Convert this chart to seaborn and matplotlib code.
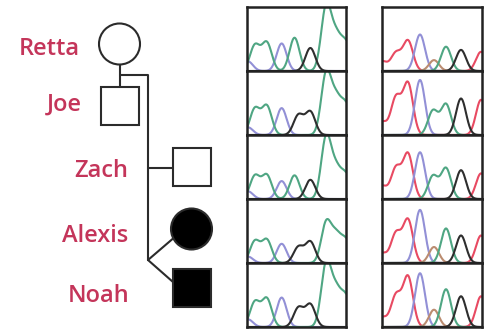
import matplotlib
matplotlib.use("Agg")
import matplotlib.pyplot as plt
import seaborn as sns
import numpy as np
import pandas as pd
from matplotlib.patches import Circle, Rectangle

sns.set_theme(style="white")
plt.rcParams["font.family"] = ["Open Sans", "DejaVu Sans"]

# family members, top to bottom
names = ["Retta", "Joe", "Zach", "Alexis", "Noah"]
sex = ["F", "M", "M", "F", "M"]
affected = [False, False, False, True, True]

# left sequencing window: base of each peak and where it sits (0-1 along the window)
left_bases = ["C", "A", "A", "C", "A", "G", "G", "A", "A", "A"]
left_pos = [0.01, 0.08, 0.20, 0.35, 0.48, 0.52, 0.64, 0.80, 0.90, 1.0]
# peak heights per person (0-1 of the box height)
left_heights = [
    [0.15, 0.40, 0.44, 0.43, 0.52, 0.00, 0.36, 1.00, 0.50, 0.42],
    [0.12, 0.41, 0.45, 0.42, 0.00, 0.31, 0.36, 0.95, 0.52, 0.45],
    [0.12, 0.36, 0.37, 0.28, 0.37, 0.00, 0.30, 0.96, 0.43, 0.36],
    [0.10, 0.34, 0.36, 0.30, 0.00, 0.25, 0.33, 0.62, 0.40, 0.34],
    [0.12, 0.39, 0.44, 0.46, 0.00, 0.30, 0.35, 0.98, 0.52, 0.45],
]

# right sequencing window
right_bases = ["T", "T", "T", "C", "N", "A", "A", "G", "T"]
right_pos = [0.00, 0.14, 0.26, 0.38, 0.52, 0.51, 0.64, 0.79, 0.99]
right_heights = [
    [0.15, 0.28, 0.47, 0.57, 0.17, 0.00, 0.38, 0.33, 0.30],
    [0.20, 0.58, 0.80, 0.86, 0.00, 0.38, 0.48, 0.57, 0.55],
    [0.20, 0.48, 0.70, 0.73, 0.00, 0.36, 0.48, 0.45, 0.40],
    [0.15, 0.46, 0.67, 0.83, 0.25, 0.00, 0.54, 0.43, 0.43],
    [0.15, 0.49, 0.78, 0.84, 0.27, 0.00, 0.59, 0.48, 0.48],
]

base_colors = {"A": "#4fa683", "C": "#9290d6", "G": "#2e2e2e", "T": "#e84a62", "N": "#bb8c70"}
peak_sd = 0.05
label_color = "#c4355a"
line_color = "#2b2b2b"

W, H = 487, 329
fig = plt.figure(figsize=(W / 100, H / 100), dpi=100)

# ---- pedigree, drawn in pixel units on a full-figure axes
ped = fig.add_axes([0, 0, 1, 1])
ped.set_xlim(0, W)
ped.set_ylim(H, 0)
ped.axis("off")

sym_r = 20.5
sym_side = 38
# symbol centre, label right edge, label baseline
layout = {
    "Retta": (119.5, 44, 80, 55),
    "Joe": (120, 106, 82, 111),
    "Zach": (192, 166.5, 128, 177),
    "Alexis": (191.5, 229, 128, 242),
    "Noah": (192, 287.5, 129, 302),
}

for name, s, aff in zip(names, sex, affected):
    cx, cy, lx, ly = layout[name]
    fc = "black" if aff else "white"
    if s == "F":
        patch = Circle((cx, cy), sym_r, fc=fc, ec=line_color, lw=1.5)
    else:
        patch = Rectangle((cx - sym_side / 2, cy - sym_side / 2), sym_side, sym_side,
                          fc=fc, ec=line_color, lw=1.5)
    ped.add_patch(patch)
    ped.text(lx, ly, name, ha="right", va="baseline", fontsize=17,
             fontweight="semibold", color=label_color)

# connecting lines
sib_x = 148
twin_y = 260
mom_x, mom_y = layout["Retta"][:2]
joe_y = layout["Joe"][1]
zach_x, zach_y = layout["Zach"][:2]
ped.plot([mom_x, mom_x], [mom_y + sym_r, joe_y - sym_side / 2], color=line_color, lw=1.5)
ped.plot([mom_x, sib_x, sib_x], [75, 75, twin_y], color=line_color, lw=1.5)
ped.plot([sib_x, zach_x - sym_side / 2], [zach_y + 1.5, zach_y + 1.5], color=line_color, lw=1.5)
ped.plot([sib_x, 173.3], [twin_y, 238.3], color=line_color, lw=1.5)
ped.plot([sib_x, 173], [twin_y, 282], color=line_color, lw=1.5)


# ---- chromatograms
def draw_trace(ax, bases, pos, heights):
    xs = np.linspace(0, 1, 300)
    frames = []
    for b in dict.fromkeys(bases):
        sig = np.zeros_like(xs)
        for base, p, h in zip(bases, pos, heights):
            if base == b:
                sig += h * np.exp(-0.5 * ((xs - p) / peak_sd) ** 2)
        frames.append(pd.DataFrame({"x": xs, "signal": sig, "base": b}))
    df = pd.concat(frames, ignore_index=True)
    sns.lineplot(data=df, x="x", y="signal", hue="base", palette=base_colors,
                 legend=False, ax=ax, lw=1.5, estimator=None)
    ax.set_xlim(0, 1)
    ax.set_ylim(0, 1.0)
    ax.set_xticks([])
    ax.set_yticks([])
    ax.set_xlabel("")
    ax.set_ylabel("")
    for sp in ax.spines.values():
        sp.set_color("#222222")
        sp.set_linewidth(1.8)


row_top, row_h = 7, 64
panels = [(247, 99, left_bases, left_pos, left_heights),
          (382, 100, right_bases, right_pos, right_heights)]
for px, pw, bases, pos, heights in panels:
    for i in range(len(names)):
        top = row_top + row_h * i
        ax = fig.add_axes([px / W, 1 - (top + row_h) / H, pw / W, row_h / H])
        ax.set_facecolor("white")
        draw_trace(ax, bases, pos, heights[i])

fig.savefig("out.png", dpi=100)
